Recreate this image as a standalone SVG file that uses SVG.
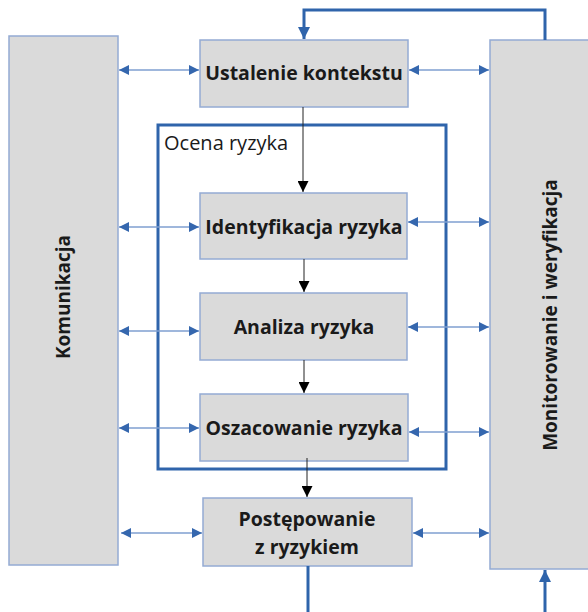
<svg xmlns="http://www.w3.org/2000/svg" width="588" height="612" viewBox="0 0 588 612">
<style>
.box{fill:#dadada;stroke:#94abd3;stroke-width:1.5}
.lbl{font-family:"Open Sans","Liberation Sans",sans-serif;font-weight:bold;font-size:19.5px;fill:#1a1a1a;text-anchor:middle}
.side{font-size:19px}
.h{stroke:#7f9fd0;stroke-width:1.3;fill:none}
.v{stroke:#222;stroke-width:1;fill:none}
.loop{stroke:#2f64ab;stroke-width:3;fill:none}
</style>
<defs>
<marker id="ba" viewBox="0 0 10 10" refX="10" refY="5" markerWidth="14" markerHeight="10" markerUnits="userSpaceOnUse" orient="auto-start-reverse"><path d="M0,0L10,5L0,10z" fill="#3567ae"/></marker>
<marker id="ka" viewBox="0 0 10 10" refX="10" refY="5" markerWidth="12" markerHeight="11" markerUnits="userSpaceOnUse" orient="auto"><path d="M0,0L10,5L0,10z" fill="#000"/></marker>
<marker id="la" viewBox="0 0 10 10" refX="10" refY="5" markerWidth="14" markerHeight="12" markerUnits="userSpaceOnUse" orient="auto"><path d="M0,0L10,5L0,10z" fill="#2f64ab"/></marker>
</defs>
<g id="komunikacja"><rect class="box" x="9" y="36" width="109" height="529"/><text class="lbl side" transform="translate(70,297) rotate(-90)">Komunikacja</text></g>
<g id="monitorowanie"><rect class="box" x="490" y="40" width="110" height="529"/><text class="lbl side" transform="translate(557,315) rotate(-90)">Monitorowanie i weryfikacja</text></g>
<g id="ocena"><rect x="158" y="125" width="288" height="344" fill="none" stroke="#2f64ab" stroke-width="3"/><text x="164" y="150" font-family="'Open Sans','Liberation Sans',sans-serif" font-size="20" fill="#1a1a1a">Ocena ryzyka</text></g>
<g id="ustalenie"><rect class="box" x="200" y="40" width="208" height="67"/><text class="lbl" x="304" y="80">Ustalenie kontekstu</text></g>
<g id="identyfikacja"><rect class="box" x="200" y="193" width="207" height="66"/><text class="lbl" x="304" y="234">Identyfikacja ryzyka</text></g>
<g id="analiza"><rect class="box" x="200" y="293" width="207" height="67"/><text class="lbl" x="304" y="334">Analiza ryzyka</text></g>
<g id="oszacowanie"><rect class="box" x="200" y="394" width="208" height="67"/><text class="lbl" x="304" y="435">Oszacowanie ryzyka</text></g>
<g id="postepowanie"><rect class="box" x="203" y="498" width="209" height="68"/><text class="lbl" x="307" y="526">Postępowanie</text><text class="lbl" x="307" y="554">z ryzykiem</text></g>
<g id="connectors">
<line class="h" x1="119" y1="70" x2="199" y2="70" marker-start="url(#ba)" marker-end="url(#ba)"/>
<line class="h" x1="119" y1="227" x2="199" y2="227" marker-start="url(#ba)" marker-end="url(#ba)"/>
<line class="h" x1="119" y1="331" x2="199" y2="331" marker-start="url(#ba)" marker-end="url(#ba)"/>
<line class="h" x1="119" y1="428" x2="199" y2="428" marker-start="url(#ba)" marker-end="url(#ba)"/>
<line class="h" x1="121" y1="533" x2="202" y2="533" marker-start="url(#ba)" marker-end="url(#ba)"/>
<line class="h" x1="409" y1="70" x2="489" y2="70" marker-start="url(#ba)" marker-end="url(#ba)"/>
<line class="h" x1="408" y1="222" x2="489" y2="222" marker-start="url(#ba)" marker-end="url(#ba)"/>
<line class="h" x1="408" y1="327" x2="489" y2="327" marker-start="url(#ba)" marker-end="url(#ba)"/>
<line class="h" x1="409" y1="432" x2="489" y2="432" marker-start="url(#ba)" marker-end="url(#ba)"/>
<line class="h" x1="413" y1="533" x2="489" y2="533" marker-start="url(#ba)" marker-end="url(#ba)"/>
<line class="v" x1="303" y1="107" x2="303" y2="192" marker-end="url(#ka)"/>
<line class="v" x1="304" y1="259" x2="304" y2="292" marker-end="url(#ka)"/>
<line class="v" x1="304" y1="360" x2="304" y2="393" marker-end="url(#ka)"/>
<line class="v" x1="307" y1="458" x2="307" y2="497" marker-end="url(#ka)"/>
<path class="loop" d="M545,40 V10 H304 V39" marker-end="url(#la)"/>
<line class="loop" x1="308" y1="566" x2="308" y2="612"/>
<line class="loop" x1="545" y1="612" x2="545" y2="570" marker-end="url(#la)"/>
</g>
</svg>
